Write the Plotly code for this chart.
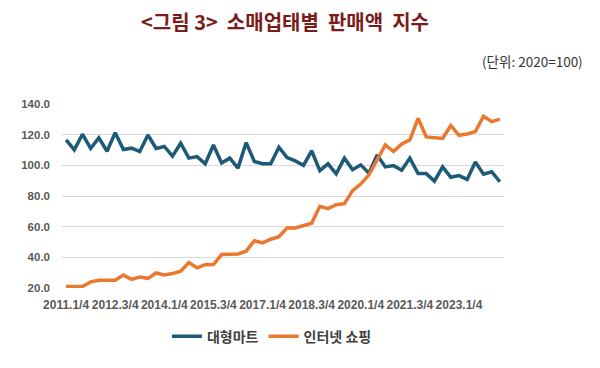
import plotly.graph_objects as go

quarters = [f"{y}.{q}/4" for y in range(2011, 2025) for q in range(1, 5)][:54]

hypermarket = [116.6, 110.1, 120.3, 111.0, 117.9, 109.2, 121.2, 110.3, 111.2, 109.0,
               119.8, 111.0, 112.3, 106.0, 114.4, 104.7, 105.7, 101.0, 113.3, 101.5,
               104.7, 98.2, 114.8, 102.5, 101.0, 101.0, 111.8, 105.1, 102.9, 100.0,
               109.5, 96.5, 101.0, 94.5, 104.7, 97.1, 100.3, 94.9, 106.8, 99.0,
               99.8, 96.8, 104.7, 94.6, 94.6, 89.7, 99.0, 92.2, 93.3, 90.8,
               102.2, 94.2, 95.8, 89.3]

online = [21.0, 21.0, 21.0, 24.0, 25.0, 25.0, 25.0, 28.4, 25.6, 27.2,
          26.3, 29.8, 28.5, 29.4, 31.0, 36.6, 33.1, 35.2, 35.3, 41.8,
          41.8, 42.2, 44.0, 50.8, 49.4, 51.8, 53.5, 59.2, 59.2, 61.0,
          62.2, 73.3, 71.8, 74.3, 75.0, 83.5, 87.8, 93.8, 104.0, 113.3,
          109.0, 114.0, 116.6, 130.7, 118.5, 118.0, 117.5, 126.0, 119.6, 120.4,
          122.0, 132.0, 128.5, 130.1]

series_names = ["대형마트", "인터넷 쇼핑"]
y_ticks = [20, 40, 60, 80, 100, 120, 140]
x_ticks = quarters[::6]

title_text = "<그림 3>  소매업태별  판매액  지수"
unit_text = "(단위: 2020=100)"

FONT = "Noto Sans CJK KR, Noto Sans, sans-serif"
NUMFONT = "Liberation Sans, Arial, sans-serif"

L, R, T, B = 62, 96, 104, 79.5
W, H = 600, 368

fig = go.Figure()
fig.add_trace(go.Scatter(x=quarters, y=hypermarket, name=series_names[0], mode="lines",
                         line=dict(color="#1d5a78", width=3.5)))
fig.add_trace(go.Scatter(x=quarters, y=online, name=series_names[1], mode="lines",
                         line=dict(color="#e8792f", width=3.5)))

fig.update_layout(
    width=W, height=H,
    margin=dict(l=L, r=R, t=T, b=B, autoexpand=False),
    paper_bgcolor="white", plot_bgcolor="white",
    font=dict(family=FONT, color="#404040"),
    showlegend=True,
    legend=dict(orientation="h", x=0.475, xanchor="center", y=-0.265, yanchor="middle",
                font=dict(size=14, color="#404040", weight="bold"),
                itemwidth=30, tracegroupgap=0),
    xaxis=dict(type="category", range=[-0.5, 53.5], tickmode="array", tickvals=x_ticks,
               ticktext=x_ticks, showgrid=False, showline=False, ticks="",
               tickangle=0, automargin=False, ticklabelstandoff=8,
               tickfont=dict(size=12, color="#595959", weight="bold", family=NUMFONT)),
    yaxis=dict(range=[20, 140], tickmode="array", tickvals=y_ticks, tickformat=".1f",
               showgrid=True, gridcolor="#d9d9d9", gridwidth=1, zeroline=False,
               showline=False, ticks="", ticklabelstandoff=11, automargin=False,
               tickfont=dict(size=11.5, color="#595959", weight="bold", family=NUMFONT)),
)

pw, ph = W - L - R, H - T - B
def px(x):
    return (x - L) / pw
def py(y):
    return (H - B - y) / ph

fig.add_annotation(text=title_text, x=px(285), y=py(21), xref="paper", yref="paper",
                   showarrow=False, xanchor="center", yanchor="middle",
                   font=dict(size=20, color="#7a1c1c", weight="bold", family=FONT))
fig.add_annotation(text=unit_text, x=px(585), y=py(61), xref="paper", yref="paper",
                   showarrow=False, xanchor="right", yanchor="middle",
                   font=dict(size=13.5, color="#333333", family=FONT))

fig.write_html("out.html", config={"displayModeBar": False},
               post_script="document.body.style.margin='0';document.body.style.overflow='hidden';")
